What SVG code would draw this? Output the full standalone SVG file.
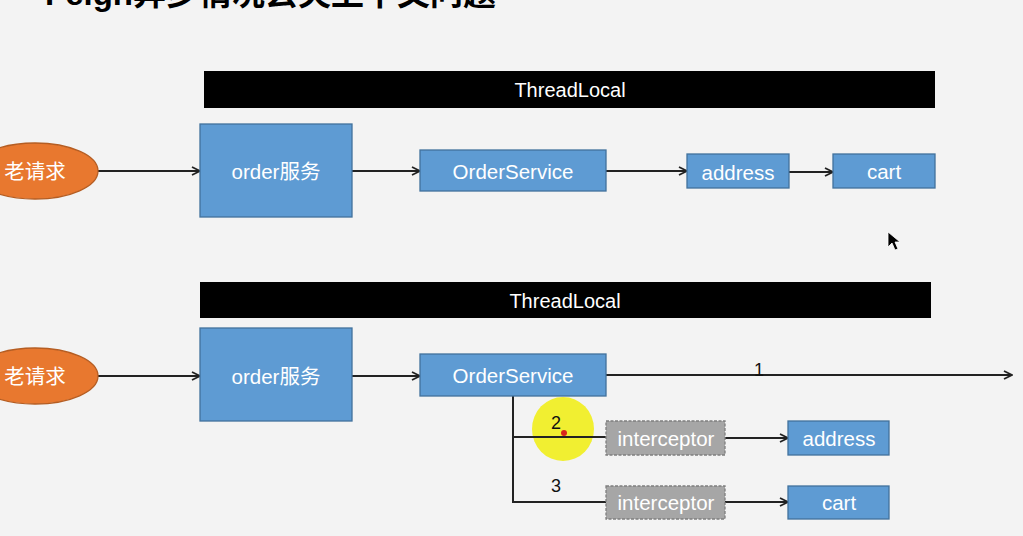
<svg xmlns="http://www.w3.org/2000/svg" width="1023" height="536" viewBox="0 0 1023 536">
<defs>
<style>
.bar{fill:#000}
.bt{fill:#fff;font-family:"Liberation Sans",Arial,sans-serif;font-size:20px;text-anchor:middle;dominant-baseline:central}
.box{fill:#5e9bd3;stroke:#41719c;stroke-width:1.3}
.gbox{fill:#a6a6a6;stroke:#7f7f7f;stroke-width:1.3;stroke-dasharray:3 1.5}
.ell{fill:#e8782f;stroke:#b55d22;stroke-width:1.3}
.lbl{fill:#fff;font-family:"Liberation Sans","Noto Sans CJK SC",sans-serif;font-size:20.5px;text-anchor:middle;dominant-baseline:central}
.num{fill:#111;font-family:"Liberation Sans",Arial,sans-serif;font-size:18px;text-anchor:middle}
.ln{fill:none;stroke:#222;stroke-width:2}
</style>
<marker id="ah" viewBox="0 0 10 10" refX="9" refY="5" markerWidth="10" markerHeight="10" markerUnits="userSpaceOnUse" orient="auto">
<path d="M1,1 L9,5 L1,9" fill="none" stroke="#222" stroke-width="1.8"/>
</marker>
</defs>
<rect width="1023" height="536" fill="#f3f3f3"/>
<text x="45" y="5" font-family="Liberation Sans,'Noto Sans CJK SC',sans-serif" font-size="33" font-weight="bold" fill="#000">Feign异步情况丢失上下文问题</text>

<g id="highlight">
<ellipse cx="563" cy="429" rx="31" ry="32" fill="#f0ee00" opacity="0.8"/>
</g>

<g id="connectors">
<path class="ln" d="M98,171 H200" marker-end="url(#ah)"/>
<path class="ln" d="M352,171 H420" marker-end="url(#ah)"/>
<path class="ln" d="M606,171 H687" marker-end="url(#ah)"/>
<path class="ln" d="M789,172 H833" marker-end="url(#ah)"/>
<path class="ln" d="M98,376 H200" marker-end="url(#ah)"/>
<path class="ln" d="M352,376 H420" marker-end="url(#ah)"/>
<path class="ln" d="M606,375 H1012" marker-end="url(#ah)"/>
<path class="ln" d="M513,396 V502 H606"/>
<path class="ln" d="M513,437 H606"/>
<path class="ln" d="M725,438 H788" marker-end="url(#ah)"/>
<path class="ln" d="M725,502 H788" marker-end="url(#ah)"/>
<text class="num" x="759" y="376">1</text>
<text class="num" x="556" y="429">2</text>
<text class="num" x="556" y="492">3</text>
</g>

<g id="threadlocal1"><rect class="bar" x="204" y="71" width="731" height="37"/><text class="bt" x="570" y="90">ThreadLocal</text></g>
<g id="req1"><ellipse class="ell" cx="35" cy="171" rx="63" ry="28"/><text class="lbl" x="35" y="171">老请求</text></g>
<g id="order1"><rect class="box" x="200" y="124" width="152" height="93"/><text class="lbl" x="276" y="171">order服务</text></g>
<g id="orderservice1"><rect class="box" x="420" y="150" width="186" height="41"/><text class="lbl" x="513" y="171">OrderService</text></g>
<g id="address1"><rect class="box" x="687" y="154" width="102" height="34"/><text class="lbl" x="738" y="172">address</text></g>
<g id="cart1"><rect class="box" x="833" y="154" width="102" height="34"/><text class="lbl" x="884" y="171">cart</text></g>

<g id="threadlocal2"><rect class="bar" x="200" y="282" width="731" height="36"/><text class="bt" x="565" y="301">ThreadLocal</text></g>
<g id="req2"><ellipse class="ell" cx="35" cy="376" rx="63" ry="28"/><text class="lbl" x="35" y="376">老请求</text></g>
<g id="order2"><rect class="box" x="200" y="328" width="152" height="93"/><text class="lbl" x="276" y="376">order服务</text></g>
<g id="orderservice2"><rect class="box" x="420" y="354" width="186" height="42"/><text class="lbl" x="513" y="375">OrderService</text></g>
<g id="interceptor1"><rect class="gbox" x="606" y="421" width="119" height="34"/><text class="lbl" x="666" y="438">interceptor</text></g>
<g id="address2"><rect class="box" x="788" y="421" width="101" height="34"/><text class="lbl" x="839" y="438">address</text></g>
<g id="interceptor2"><rect class="gbox" x="606" y="486" width="119" height="33"/><text class="lbl" x="666" y="502">interceptor</text></g>
<g id="cart2"><rect class="box" x="788" y="486" width="101" height="33"/><text class="lbl" x="839" y="502">cart</text></g>

<circle cx="564" cy="433" r="3" fill="#d8261c"/>
<g id="cursor"><path d="M888,232 L888,247 L892,243 L895,250 L898,249 L895,242 L900,242 Z" fill="#000" stroke="#fff" stroke-width="0.8"/></g>
</svg>
